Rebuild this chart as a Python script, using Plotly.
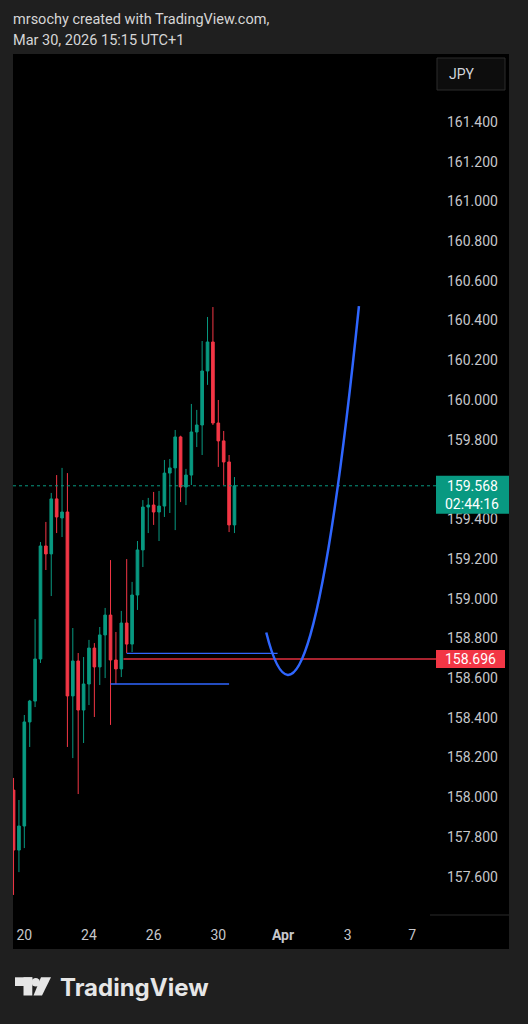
import plotly.graph_objects as go

W, H = 528, 1024

# USDJPY 4H candles (bar 0 = Mar 19 late session)
opens = [158.036, 157.734, 157.855, 158.379, 158.484, 158.696, 159.265, 159.225, 159.502, 159.406,
         159.436, 158.510, 158.686, 158.439, 158.570, 158.751, 158.656, 158.817, 158.917, 158.691,
         158.646, 158.877, 158.771, 159.018, 159.245, 159.461, 159.471, 159.436, 159.466, 159.632,
         159.658, 159.814, 159.562, 159.622, 159.839, 159.874, 160.146, 160.292, 159.884, 159.794,
         159.688, 159.371]
highs = [158.097, 157.986, 158.414, 158.490, 158.897, 159.285, 159.386, 159.532, 159.622, 159.658,
         159.632, 158.852, 158.726, 158.706, 158.792, 158.776, 158.857, 158.953, 159.194, 158.832,
         158.938, 159.199, 159.084, 159.290, 159.496, 159.507, 159.537, 159.542, 159.698, 159.703,
         159.849, 159.820, 159.653, 159.980, 159.950, 160.297, 160.418, 160.468, 160.000, 159.844,
         159.723, 159.612]
lows = [157.508, 157.623, 157.744, 158.253, 158.454, 158.676, 159.144, 159.013, 159.330, 159.310,
        158.253, 158.197, 158.016, 158.273, 158.464, 158.404, 158.565, 158.600, 158.364, 158.570,
        158.605, 158.726, 158.731, 158.943, 159.159, 159.330, 159.371, 159.290, 159.411, 159.431,
        159.345, 159.486, 159.471, 159.572, 159.763, 159.723, 160.076, 159.874, 159.663, 159.572,
        159.335, 159.330]
closes = [157.734, 157.855, 158.379, 158.484, 158.696, 159.265, 159.225, 159.502, 159.411, 159.436,
          158.510, 158.686, 158.439, 158.570, 158.751, 158.656, 158.817, 158.917, 158.691, 158.646,
          158.877, 158.771, 159.018, 159.245, 159.461, 159.471, 159.436, 159.466, 159.632, 159.658,
          159.814, 159.562, 159.622, 159.839, 159.874, 160.146, 160.292, 159.884, 159.794, 159.688,
          159.371, 159.568]

# time axis: first bar of each labelled day
day_labels = ["20", "24", "26", "30", "<b>Apr</b>", "3", "7"]
day_first_bar = [2, 14, 26, 38, 50, 62, 74]

# price axis labels (159.600 sits under the last-price badge)
price_ticks = [157.6, 157.8, 158.0, 158.2, 158.4, 158.6, 158.8, 159.0, 159.2, 159.4,
               159.8, 160.0, 160.2, 160.4, 160.6, 160.8, 161.0, 161.2, 161.4]

last_price = 159.568
countdown = "02:44:16"
alert_price = 158.696
alert_from_bar = 20.4

# blue horizontal levels drawn by the author
level_prices = [158.724, 158.570]
level_start = [21, 18]
level_end = [49, 40]

# blue curve drawing (start, control, end)
curve_bars = [46.9, 54.7, 64.1]
curve_prices = [158.829, 157.986, 160.473]

GREEN = "#089981"
RED = "#f23645"
BLUE = "#2f66ff"
TXT = "#c6c7cb"
X_RANGE = [-0.1, 78.4]


def py(y):
    return 1 - y / H


def px(x):
    return x / W


fig = go.Figure(go.Candlestick(
    x=list(range(len(opens))),
    open=opens, high=highs, low=lows, close=closes,
    increasing=dict(line=dict(color=GREEN, width=1), fillcolor=GREEN),
    decreasing=dict(line=dict(color=RED, width=1), fillcolor=RED),
    whiskerwidth=0,
    hoverinfo="skip",
))

shapes = [
    # chart panel
    dict(type="rect", xref="paper", yref="paper", x0=px(13), x1=px(509), y0=py(949), y1=py(54),
         fillcolor="#000000", line_width=0, layer="below"),
    # JPY badge
    dict(type="rect", xref="paper", yref="paper", x0=px(437), x1=px(505), y0=py(90), y1=py(58),
         fillcolor="#0d0d0d", line=dict(color="#2c2c2c", width=1)),
    # corner separator
    dict(type="line", xref="paper", yref="paper", x0=px(430), x1=px(509), y0=py(915), y1=py(915),
         line=dict(color="#2a2a2a", width=1)),
    # last price line
    dict(type="line", xref="paper", yref="y", x0=px(13), x1=px(436), y0=last_price, y1=last_price,
         line=dict(color=GREEN, width=1, dash="dot")),
    # alert ray
    dict(type="line", xref="x", yref="y", x0=alert_from_bar, x1=X_RANGE[1], y0=alert_price, y1=alert_price,
         line=dict(color="#a8232f", width=2)),
]
for p, a, b in zip(level_prices, level_start, level_end):
    shapes.append(dict(type="line", xref="x", yref="y", x0=a, x1=b, y0=p, y1=p,
                       line=dict(color=BLUE, width=1.3)))
shapes.append(dict(
    type="path", xref="x", yref="y",
    path=f"M {curve_bars[0]},{curve_prices[0]} Q {curve_bars[1]},{curve_prices[1]} {curve_bars[2]},{curve_prices[2]}",
    line=dict(color=BLUE, width=2.5),
))
# price labels on the axis
shapes.append(dict(type="rect", xref="paper", yref="y", x0=px(436), x1=px(509),
                   ysizemode="pixel", yanchor=last_price, y0=-28, y1=10,
                   fillcolor=GREEN, line_width=0))
shapes.append(dict(type="rect", xref="paper", yref="y", x0=px(436), x1=px(505),
                   ysizemode="pixel", yanchor=alert_price, y0=-9, y1=9,
                   fillcolor=RED, line_width=0))
# TradingView logo mark
shapes += [
    dict(type="rect", xref="paper", yref="paper", x0=px(15), x1=px(32.3), y0=py(986), y1=py(977.3),
         fillcolor="#e6e6e6", line_width=0),
    dict(type="rect", xref="paper", yref="paper", x0=px(23.5), x1=px(32.3), y0=py(995.5), y1=py(977.3),
         fillcolor="#e6e6e6", line_width=0),
    dict(type="circle", xref="paper", yref="paper", x0=px(31.5), x1=px(40), y0=py(986.5), y1=py(978),
         fillcolor="#e6e6e6", line_width=0),
    dict(type="path", xref="paper", yref="paper",
         path=f"M {px(41)},{py(977.3)} L {px(51)},{py(977.3)} L {px(42)},{py(995.5)} L {px(33.5)},{py(995.5)} Z",
         fillcolor="#e6e6e6", line_width=0),
]

ann_font = dict(family="Roboto, sans-serif", size=14, color="#ffffff")
annotations = [
    dict(text="mrsochy created with TradingView.com,", xref="paper", yref="paper", x=px(11), y=py(19),
         xanchor="left", yanchor="middle", showarrow=False,
         font=dict(family="Roboto, sans-serif", size=14.5, color="#d6d6d6")),
    dict(text="Mar 30, 2026 15:15 UTC+1", xref="paper", yref="paper", x=px(11), y=py(40),
         xanchor="left", yanchor="middle", showarrow=False,
         font=dict(family="Roboto, sans-serif", size=14.5, color="#d6d6d6")),
    dict(text="JPY", xref="paper", yref="paper", x=px(447), y=py(74), xanchor="left", yanchor="middle",
         showarrow=False, font=dict(family="Roboto, sans-serif", size=14, color="#d1d4dc")),
    dict(text=f"{last_price:.3f}", xref="paper", yref="y", x=px(472), y=last_price, xanchor="center",
         yanchor="middle", showarrow=False, font=ann_font),
    dict(text=countdown, xref="paper", yref="y", x=px(472), y=last_price, yshift=-18, xanchor="center",
         yanchor="middle", showarrow=False, font=ann_font),
    dict(text=f"{alert_price:.3f}", xref="paper", yref="y", x=px(470), y=alert_price, xanchor="center",
         yanchor="middle", showarrow=False, font=ann_font),
    dict(text="<b>TradingView</b>", xref="paper", yref="paper", x=px(58), y=py(987), xanchor="left",
         yanchor="middle", showarrow=False,
         font=dict(family="Inter, sans-serif", size=24, color="#e6e6e6")),
]

fig.update_layout(
    width=W, height=H,
    margin=dict(l=0, r=0, t=0, b=0),
    paper_bgcolor="#1f1f1f",
    plot_bgcolor="#000000",
    showlegend=False,
    hovermode=False,
    shapes=shapes,
    annotations=annotations,
    font=dict(family="Roboto, sans-serif", color=TXT),
    xaxis=dict(
        domain=[px(13), px(436)], range=X_RANGE, rangeslider=dict(visible=False),
        tickvals=day_first_bar, ticktext=day_labels, showgrid=False, zeroline=False,
        showline=False, ticks="", ticklabelstandoff=10, tickfont=dict(size=14, color=TXT),
    ),
    yaxis=dict(
        domain=[py(915), py(54)], range=[157.407, 161.742], side="right",
        tickvals=price_ticks, tickformat=".3f", showgrid=False, zeroline=False,
        showline=False, ticks="", ticklabelstandoff=10, tickfont=dict(size=14, color=TXT),
    ),
)

# drop the browser's default page margin so the figure sits at (0, 0)
fig.write_html("out.html", config={"displayModeBar": False},
               post_script="document.body.style.margin='0';document.body.style.overflow='hidden';")
